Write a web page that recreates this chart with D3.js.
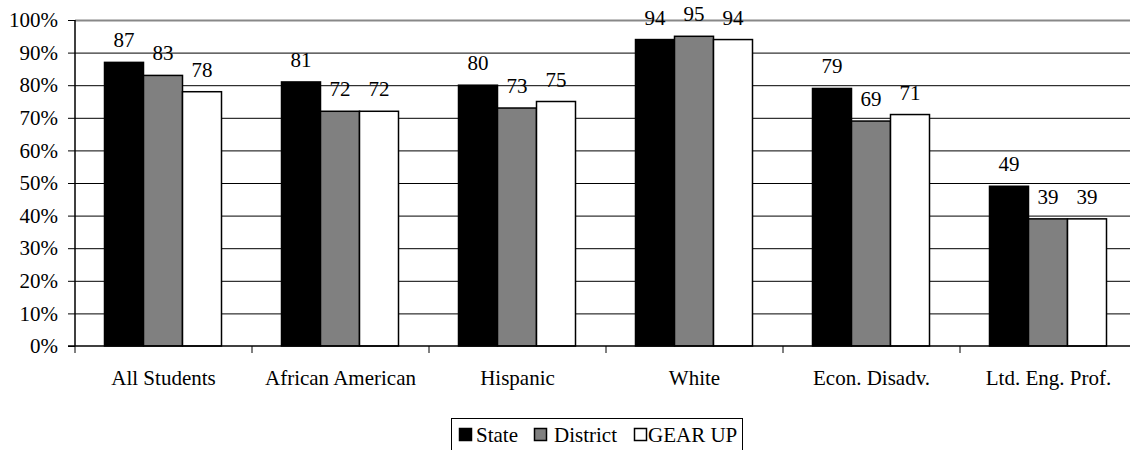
<!DOCTYPE html>
<html>
<head>
<meta charset="utf-8">
<script src="https://cdn.jsdelivr.net/npm/d3@7/dist/d3.min.js"></script>
<style>
  html, body { margin: 0; padding: 0; background: #fff; }
</style>
</head>
<body>
<svg id="chart" width="1130" height="450"></svg>
<script>
// Categories, series and values
const categories = ["All Students", "African American", "Hispanic", "White", "Econ. Disadv.", "Ltd. Eng. Prof."];
const seriesNames = ["State", "District", "GEAR UP"];
const stateValues = [87, 81, 80, 94, 79, 49];
const districtValues = [83, 72, 73, 95, 69, 39];
const gearUpValues = [78, 72, 75, 94, 71, 39];
const yTicks = [0, 10, 20, 30, 40, 50, 60, 70, 80, 90, 100];

const seriesValues = [stateValues, districtValues, gearUpValues];
const fills = ["#000000", "#808080", "#ffffff"];

// Pick the first installed Times-like serif face
function pickFont(cands) {
  const ctx = document.createElement("canvas").getContext("2d");
  const sample = "All Students 100% GEAR UP mmmwwwiii";
  const w = f => { ctx.font = "40px " + f; return ctx.measureText(sample).width; };
  const mono = w("monospace"), sans = w("sans-serif");
  for (const c of cands) {
    const a = w(`"${c}", monospace`), b = w(`"${c}", sans-serif`);
    if (a === b && a !== mono) return `"${c}"`;
  }
  return "serif";
}
const FONT = pickFont(["Liberation Serif", "Times New Roman", "Tinos", "DejaVu Serif", "Noto Serif", "FreeSerif"]);
const FS = 21;

const svg = d3.select("#chart").style("font-family", FONT);
const plotLeft = 75, plotTop = 20, plotBottom = 346, catW = 177;
const plotRight = plotLeft + catW * categories.length;

const y = d3.scaleLinear().domain([0, 100]).range([plotBottom, plotTop]);
const x0 = d3.scaleBand().domain(categories).range([plotLeft, plotRight]).padding(0);
const x1 = d3.scaleBand().domain(seriesNames).range([29.5, 29.5 + 117]).padding(0);

// Horizontal gridlines
svg.append("g").selectAll("line")
  .data(yTicks.filter(t => t > 0))
  .join("line")
  .attr("x1", plotLeft).attr("x2", 1130)
  .attr("y1", d => y(d) + 0.5).attr("y2", d => y(d) + 0.5)
  .attr("stroke", d => d === 100 ? "#888" : "#000")
  .attr("stroke-width", d => d === 100 ? 2 : 1);

// Bars
const rows = categories.map((c, i) => ({ c, vals: seriesValues.map((s, j) => ({ name: seriesNames[j], v: s[i], j })) }));
const groups = svg.append("g").selectAll("g")
  .data(rows).join("g")
  .attr("transform", d => `translate(${x0(d.c)},0)`);

groups.selectAll("rect")
  .data(d => d.vals).join("rect")
  .attr("x", d => x1(d.name))
  .attr("width", x1.bandwidth())
  .attr("y", d => y(d.v))
  .attr("height", d => y(0) - y(d.v))
  .attr("fill", d => fills[d.j])
  .attr("stroke", "#000")
  .attr("stroke-width", 1.5);

// Value labels
groups.selectAll("text")
  .data(d => d.vals).join("text")
  .attr("x", d => x1(d.name) + x1.bandwidth() / 2)
  .attr("y", d => y(d.v) - 15)
  .attr("text-anchor", "middle")
  .style("font-family", FONT)
  .attr("font-size", FS)
  .attr("fill", "#000")
  .text(d => d.v);

// Y axis
const yAxis = d3.axisLeft(y).tickValues(yTicks).tickFormat(d => d + "%").tickSize(7).tickPadding(10);
const gy = svg.append("g").attr("transform", `translate(${plotLeft},0)`).call(yAxis);
gy.select(".domain").attr("stroke", "#000").attr("stroke-width", 1.5).attr("d", `M0,${plotTop}V${plotBottom}`);
gy.selectAll(".tick line").attr("stroke", "#000");
gy.selectAll(".tick text").attr("font-size", FS).style("font-family", FONT).attr("fill", "#000");

// X axis
svg.append("line")
  .attr("x1", plotLeft - 7).attr("x2", 1130)
  .attr("y1", plotBottom).attr("y2", plotBottom)
  .attr("stroke", "#000").attr("stroke-width", 1.5);
svg.append("g").selectAll("line")
  .data(categories.map((c, i) => i))
  .join("line")
  .attr("x1", i => plotLeft + i * catW).attr("x2", i => plotLeft + i * catW)
  .attr("y1", plotBottom).attr("y2", plotBottom + 7)
  .attr("stroke", "#000").attr("stroke-width", 1);

svg.append("g").selectAll("text")
  .data(categories).join("text")
  .attr("x", d => x0(d) + x0.bandwidth() / 2)
  .attr("y", 385)
  .attr("text-anchor", "middle")
  .style("font-family", FONT)
  .attr("font-size", FS)
  .attr("fill", "#000")
  .text(d => d);

// Legend
const legend = svg.append("g");
const box = legend.append("rect")
  .attr("x", 451.5).attr("y", 418.5).attr("height", 40)
  .attr("fill", "#fff").attr("stroke", "#000").attr("stroke-width", 1);
const legendItems = [
  { name: seriesNames[0], sx: 459, tx: 476 },
  { name: seriesNames[1], sx: 534, tx: 554 },
  { name: seriesNames[2], sx: 634, tx: 648 }
];
let legendEnd = 0;
legendItems.forEach((it, j) => {
  legend.append("rect")
    .attr("x", it.sx + 0.5).attr("y", 428.5).attr("width", 12).attr("height", 12)
    .attr("fill", fills[j]).attr("stroke", "#000").attr("stroke-width", 1.5);
  const t = legend.append("text")
    .attr("x", it.tx).attr("y", 442)
    .style("font-family", FONT)
    .attr("font-size", FS).attr("fill", "#000")
    .text(it.name);
  legendEnd = Math.max(legendEnd, it.tx + t.node().getComputedTextLength());
});
box.attr("width", Math.round(legendEnd + 5 - 451));
</script>
</body>
</html>
